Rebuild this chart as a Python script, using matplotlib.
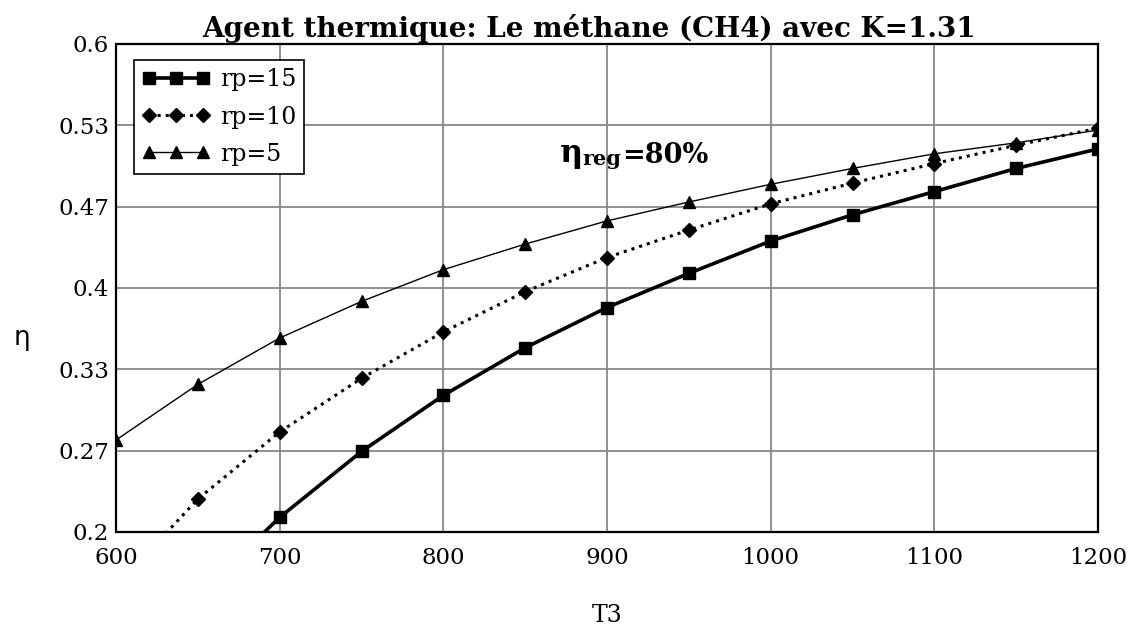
import numpy as np
import matplotlib
matplotlib.use('Agg')
from matplotlib import pyplot as plt

# Inlet turbine temperature T3 and cycle efficiency for each pressure ratio
T3 = [600, 650, 700, 750, 800, 850, 900, 950, 1000, 1050, 1100, 1150, 1200]
eta_rp15 = [0.070, 0.147, 0.212, 0.266, 0.312, 0.351, 0.384, 0.412, 0.4385, 0.460, 0.479, 0.498, 0.514]
eta_rp10 = [0.155, 0.227, 0.282, 0.326, 0.364, 0.397, 0.425, 0.4475, 0.469, 0.486, 0.502, 0.517, 0.531]
eta_rp5 = [0.2754, 0.321, 0.359, 0.389, 0.415, 0.436, 0.455, 0.4705, 0.485, 0.498, 0.510, 0.519, 0.5295]

yticks = np.linspace(0.2, 0.6, 7)
ytick_labels = ['0.2', '0.27', '0.33', '0.4', '0.47', '0.53', '0.6']
xticks = [600, 700, 800, 900, 1000, 1100, 1200]

serif = 'DejaVu Serif'

fig = plt.figure(figsize=(11.41, 6.30), dpi=100)
ax = fig.add_axes([116 / 1141, 98 / 630, 982 / 1141, 488 / 630])

ax.plot(T3, eta_rp15, '-', color='black', lw=2.6, marker='s', ms=9, label='rp=15')
ax.plot(T3, eta_rp10, ':', color='black', lw=2.2, marker='D', ms=7, label='rp=10')
ax.plot(T3, eta_rp5, '-', color='black', lw=1.0, marker='^', ms=8, label='rp=5')

ax.set_xlim(600, 1200)
ax.set_ylim(0.2, 0.6)
ax.set_xticks(xticks)
ax.set_yticks(yticks)
ax.set_yticklabels(ytick_labels)
ax.grid(True, color='#888888', lw=1.3)
ax.set_axisbelow(True)
ax.tick_params(length=0, labelsize=16.5)
ax.tick_params(axis='x', pad=11)
ax.tick_params(axis='y', pad=5)
for lab in ax.get_xticklabels() + ax.get_yticklabels():
    lab.set_family(serif)
for sp in ax.spines.values():
    sp.set_linewidth(1.6)

ax.set_title('Agent thermique: Le méthane (CH4) avec K=1.31', family=serif,
             fontweight='bold', fontsize=20, pad=5, x=0.482)

leg = ax.legend(loc='upper left', bbox_to_anchor=(0.018, 0.967), borderaxespad=0,
                numpoints=3, handlelength=2.9, fancybox=False, framealpha=1,
                edgecolor='black', prop={'family': serif, 'size': 17},
                handletextpad=0.4, labelspacing=0.6, borderpad=0.35)
leg.get_frame().set_linewidth(1.2)

fig.text(607 / 1141, 1 - 615 / 630, 'T3', family=serif, fontsize=17,
         ha='center', va='center')
fig.text(22 / 1141, 1 - 338 / 630, 'η', fontsize=19, ha='center', va='center')

# regenerator efficiency note: large eta, small "reg", then the value
t1 = ax.text(871, 0.503, 'η', family=serif, fontweight='bold', fontsize=23,
             va='baseline')
t2 = ax.annotate('reg', xy=(1, 0), xycoords=t1, xytext=(0, 0),
                 textcoords='offset points', family=serif, fontweight='bold',
                 fontsize=15, va='bottom')
ax.annotate('=80%', xy=(1, 0), xycoords=t2, xytext=(0, 0),
            textcoords='offset points', family=serif, fontweight='bold',
            fontsize=19.5, va='bottom')

plt.savefig('out.png', dpi=100)
